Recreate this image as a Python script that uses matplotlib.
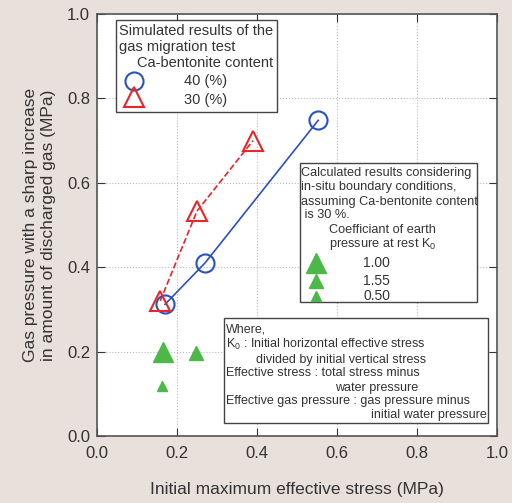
import matplotlib
matplotlib.use("Agg")
import matplotlib.pyplot as plt
from matplotlib.patches import Rectangle

plt.rcParams["font.family"] = ["Liberation Sans", "DejaVu Sans"]
plt.rcParams["mathtext.fontset"] = "custom"
plt.rcParams["mathtext.rm"] = "Liberation Sans"
plt.rcParams["mathtext.it"] = "Liberation Sans"

# Data
stress_40 = [0.17, 0.27, 0.553]
gas_40 = [0.312, 0.410, 0.748]
stress_30 = [0.158, 0.250, 0.390]
gas_30 = [0.320, 0.533, 0.700]
calc_stress = [0.165, 0.248, 0.163]
calc_gas = [0.198, 0.197, 0.118]
calc_k0 = ["1.00", "1.55", "0.50"]
calc_size = [15, 10, 7]
ticks = [0.0, 0.2, 0.4, 0.6, 0.8, 1.0]

bg = "#e8e0da"
blue = "#2a52be"
red = "#e8262a"
green = "#4cb848"
txt = "#333333"

fig = plt.figure(figsize=(5.12, 5.03), dpi=100, facecolor=bg)
ax = fig.add_axes([97/512, 1-436/503, 400/512, 422/503])
ax.set_facecolor("white")
ax.set_xlim(0, 1)
ax.set_ylim(0, 1)
ax.set_xticks(ticks)
ax.set_yticks(ticks)
ax.set_xticklabels([f"{t:.1f}" for t in ticks])
ax.set_yticklabels([f"{t:.1f}" for t in ticks])
ax.tick_params(direction="in", top=True, right=True, length=6, labelsize=12, colors=txt)
ax.tick_params(axis="x", pad=7)
ax.tick_params(axis="y", pad=5)
ax.grid(True, linestyle=":", color="#bbbbbb", linewidth=0.8)
for s in ax.spines.values():
    s.set_color("#555555")
    s.set_linewidth(1.2)

ax.plot(stress_40, gas_40, "-", color=blue, lw=1.2, zorder=3)
ax.plot(stress_40, gas_40, "o", ms=13, mfc="none", mec=blue, mew=1.5, zorder=4)
ax.plot(stress_30, gas_30, "--", color=red, lw=1.2, zorder=3)
ax.plot(stress_30, gas_30, "^", ms=14, mfc="none", mec=red, mew=1.5, zorder=4)
for x, y, s in zip(calc_stress, calc_gas, calc_size):
    ax.plot(x, y, "^", ms=s, color=green, mec=green, zorder=4)

ax.set_xlabel("Initial maximum effective stress (MPa)", fontsize=12.5, labelpad=15, color=txt)
ax.set_ylabel("Gas pressure with a sharp increase\nin amount of discharged gas (MPa)", fontsize=12.5,
              labelpad=8, linespacing=1.25, color=txt)

def px(x):
    return (x - 97) / 400
def py(y):
    return (436 - y) / 422

def box(x0, y0, x1, y1):
    ax.add_patch(Rectangle((px(x0), py(y1)), px(x1) - px(x0), py(y0) - py(y1),
                           transform=ax.transAxes, fc="white", ec="#444444", lw=1.0, zorder=5))

def t(x, y, s, fs):
    ax.text(px(x), py(y), s, transform=ax.transAxes, fontsize=fs, va="center", ha="left",
            zorder=6, color=txt)

# Box 1
box(116, 20, 277, 112)
fs = 10.5
t(119, 31, "Simulated results of the", fs)
t(119, 47, "gas migration test", fs)
t(137, 63, "Ca-bentonite content", fs)
ax.plot(px(134), py(81), "o", ms=13, mfc="none", mec=blue, mew=1.5, transform=ax.transAxes, zorder=6, clip_on=False)
ax.plot(px(134), py(97), "^", ms=14, mfc="none", mec=red, mew=1.5, transform=ax.transAxes, zorder=6, clip_on=False)
t(184, 81, "40 (%)", fs)
t(184, 100, "30 (%)", fs)

# Box 2
box(300, 163, 477, 302)
fs2 = 9.2
t(301, 173, "Calculated results considering", fs2)
t(301, 187, "in-situ boundary conditions,", fs2)
t(301, 202, "assuming Ca-bentonite content", fs2)
t(301, 215, " is 30 %.", fs2)
t(329, 230, "Coefficiant of earth", fs2)
t(329, 244, "pressure at rest K$_0$", fs2)
leg_y = [263, 281, 296]
for yy, lab, s in zip(leg_y, calc_k0, calc_size):
    ax.plot(px(316), py(yy), "^", ms=s, color=green, transform=ax.transAxes, zorder=6, clip_on=False)
    t(363, yy, lab, fs2 + 0.8)

# Box 3
box(224, 318, 488, 423)
fs3 = 9.0
t(226, 330, "Where,", fs3)
t(226, 344, "K$_0$ : Initial horizontal effective stress", fs3)
t(256, 360, "divided by initial vertical stress", fs3)
t(226, 373, "Effective stress : total stress minus", fs3)
t(335, 388, "water pressure", fs3)
t(226, 401, "Effective gas pressure : gas pressure minus", fs3)
t(371, 415, "initial water pressure", fs3)

fig.savefig("out.png", dpi=100, facecolor=bg)
